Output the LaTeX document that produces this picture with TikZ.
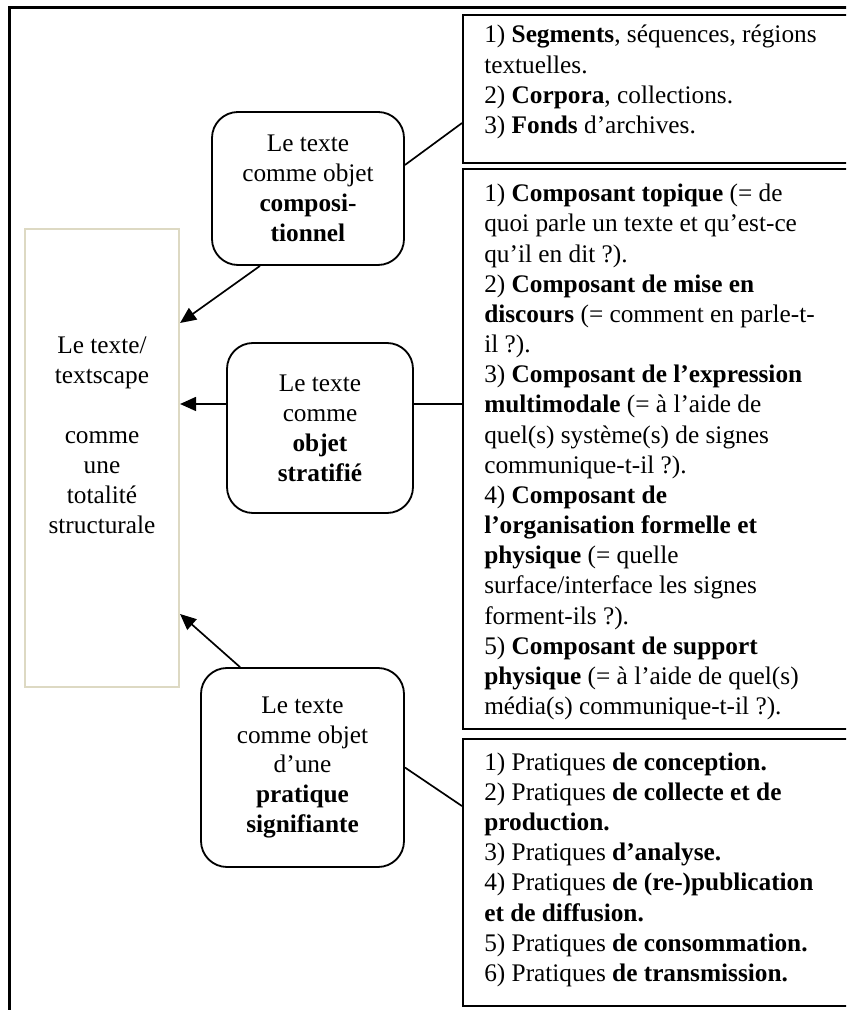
\documentclass[tikz,border=0pt]{standalone}
\usepackage{fontspec}
\setmainfont{Liberation Serif}
\usetikzlibrary{arrows.meta}
\definecolor{beigecadre}{RGB}{221,217,195}
\tikzset{
	bulle/.style={draw, line width=1.3pt, rounded corners=0.65cm, align=center, font=\fontsize{18}{21.3}\selectfont},
	liste/.style={draw, line width=1.5pt, anchor=north west, minimum width=9.85cm},
	listetxt/.style={anchor=north west, inner sep=0pt, align=left, font=\fontsize{18}{21.45}\selectfont},
	fleche/.style={line width=1.2pt, -{Triangle[length=0.4cm,width=0.35cm]}},
	trait/.style={line width=1.2pt}
}
\begin{document}
\begin{tikzpicture}
			\clip (0,0) rectangle (21.15,25.25);
			% Cadre
			\draw[line width=1.6pt] (0.2375,-1) -- (0.2375,25.0625) -- (22,25.0625);

			% Totalite
			\node[draw=beigecadre, line width=1.5pt, minimum width=3.85cm, minimum height=11.45cm] (tot) at (2.55,13.8) {};
			\node[align=center, inner sep=0pt, anchor=north, font=\fontsize{18}{21.3}\selectfont] (totlbl) at ([yshift=-2.725cm]tot.north) {Le texte/\\textscape\\[0.75cm]comme\\une\\totalité\\structurale};

			% Bulles
			\node[bulle, minimum width=4.8cm, minimum height=3.825cm] (b1) at (7.7,20.5375) {Le texte\\comme objet\\\textbf{composi-}\\\textbf{tionnel}};
			\node[bulle, minimum width=4.65cm, minimum height=4.25cm] (b2) at (8.0,14.55) {Le texte\\comme\\\textbf{objet}\\\textbf{stratifié}};
			\node[bulle, minimum width=5.075cm, minimum height=4.975cm] (b3) at (7.5625,6.0625) {Le texte\\comme objet\\d’une\\\textbf{pratique}\\\textbf{signifiante}};

			% Listes
			\node[liste, minimum height=3.7cm] (r1) at (11.55,24.9) {};
			\node[listetxt] (r1t) at ([xshift=0.55cm,yshift=-0.275cm]r1.north west) {1) \textbf{Segments}, séquences, régions\\textuelles.\\2) \textbf{Corpora}, collections.\\3) \textbf{Fonds} d’archives.};

			\node[liste, minimum height=14cm] (r2) at (11.55,21.05) {};
			\node[listetxt] (r2t) at ([xshift=0.55cm,yshift=-0.4cm]r2.north west) {1) \textbf{Composant topique} (= de\\
				quoi parle un texte et qu’est-ce\\
				qu’il en dit ?).\\
				2) \textbf{Composant de mise en}\\
				\textbf{discours} (= comment en parle-t-\\
				il ?).\\
				3) \textbf{Composant de l’expression}\\
				\textbf{multimodale} (= à l’aide de\\
				quel(s) système(s) de signes\\
				communique-t-il ?).\\
				4) \textbf{Composant de}\\
				\textbf{l’organisation formelle et}\\
				\textbf{physique} (= quelle\\
				surface/interface les signes\\
				forment-ils ?).\\
				5) \textbf{Composant de support}\\
				\textbf{physique} (= à l’aide de quel(s)\\
				média(s) communique-t-il ?).};

			\node[liste, minimum height=6.675cm] (r3) at (11.55,6.8) {};
			\node[listetxt] (r3t) at ([xshift=0.55cm,yshift=-0.36cm]r3.north west) {1) Pratiques \textbf{de conception.}\\
				2) Pratiques \textbf{de collecte et de}\\
				\textbf{production.}\\
				3) Pratiques \textbf{d’analyse.}\\
				4) Pratiques \textbf{de (re-)publication}\\
				\textbf{et de diffusion.}\\
				5) Pratiques \textbf{de consommation.}\\
				6) Pratiques \textbf{de transmission.}};

			% Liaisons
			\draw[fleche] ([xshift=-1.2cm]b1.south) -- ([yshift=3.375cm]tot.east);
			\draw[fleche] ([yshift=0.6cm]b2.west) -- ([yshift=0.6cm]b2.west -| tot.east);
			\draw[fleche] ([xshift=-1.5625cm]b3.north) -- ([yshift=-3.9cm]tot.east);
			\draw[trait] ([yshift=0.5875cm]b1.east) -- ([yshift=-0.85cm]r1.west);
			\draw[line width=1.6pt] ([yshift=0.6cm]b2.east) -- ([yshift=0.6cm]b2.east -| r2.west);
			\draw[trait] (b3.east) -- ([yshift=1.6625cm]r3.west);
		\end{tikzpicture}
\end{document}
